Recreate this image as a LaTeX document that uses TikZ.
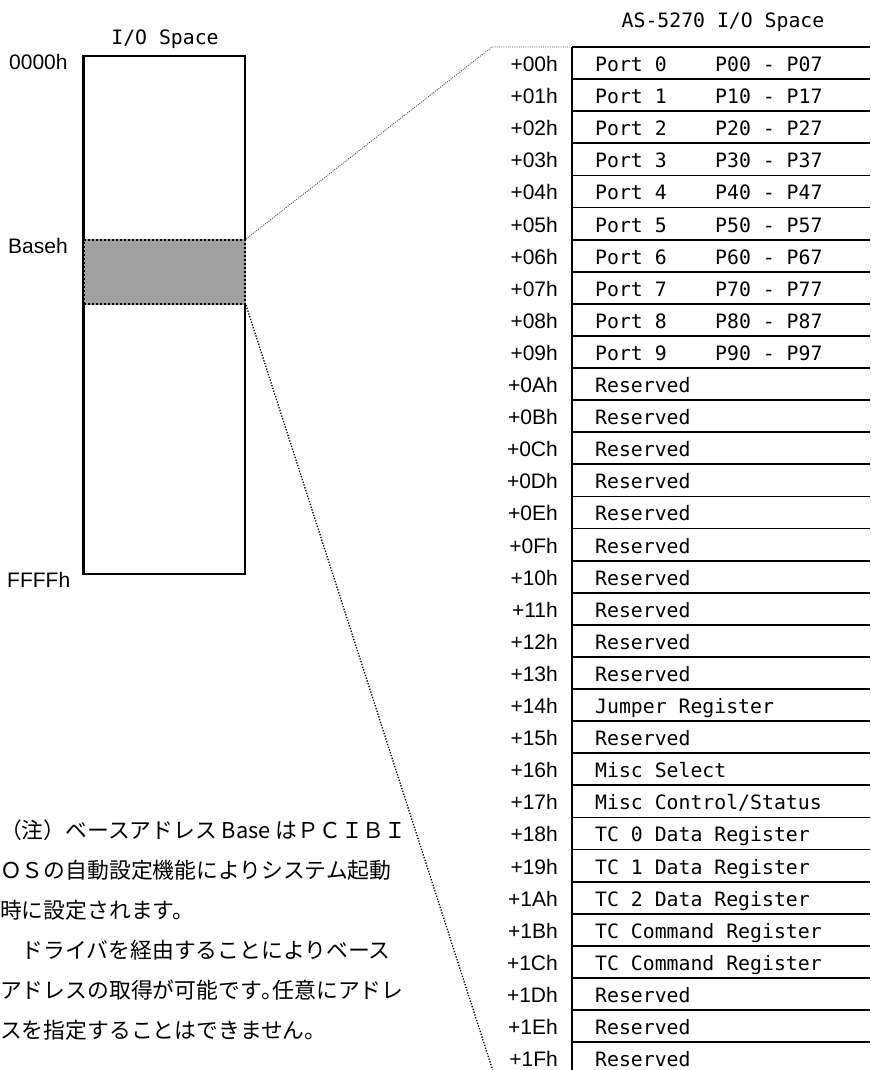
\documentclass[tikz,border=0pt]{standalone}
\usepackage{fontspec}
\setmainfont{Liberation Sans}
\setmonofont{DejaVu Sans Mono}
\newfontfamily\cjk{Noto Sans CJK JP}
\definecolor{blkgray}{gray}{0.63}

\begin{document}
\begin{tikzpicture}[x=1pt,y=-1pt,
  addr/.style={anchor=base east,inner sep=0pt,text depth=0pt,font=\fontsize{21}{25}\selectfont},
  tm/.style={anchor=base west,inner sep=0pt,text depth=0pt,font=\ttfamily\fontsize{19.8}{24}\selectfont},
  note/.style={anchor=base west,inner sep=0pt,font=\cjk\fontsize{21.8}{26}\selectfont},
  rule/.style={line width=1.8pt},
  blk/.style={fill=blkgray,draw=black,line width=2pt,dash pattern=on 2pt off 2pt,
    preaction={draw=blkgray,line width=2.6pt,solid}},
  zoomline/.style={black!70,line width=0.9pt,dash pattern=on 1pt off 1.2pt}]
\useasboundingbox (0,0) rectangle (870,1070);
\def\rowh{32.1}
% whole I/O space
\node[rule,draw,minimum width=161pt,minimum height=518pt,inner sep=0pt] (iospace) at (164.5,315) {};
\node[blk,minimum width=161pt,minimum height=64pt,inner sep=0pt] (blk) at (164.5,272) {};
\draw[rule] (iospace.north west) -- (iospace.south west);
\node[tm,anchor=base] (iotitle) at (165,45) {I/O Space};
\node[addr,anchor=base west] (lo) at (9,70) {0000h};
\node[addr,anchor=base west] (base) at (8,253.5) {Baseh};
\node[addr,anchor=base west] (hi) at (7,587.5) {FFFFh};
% board registers
\node[tm,anchor=base] (astitle) at (723,28) {AS-5270 I/O Space};
\coordinate (ttop) at (572,47);
\coordinate (tbot) at (572,{47+32*\rowh});
\draw[rule] (ttop) -- (tbot);
\draw[rule] (ttop) -- (870,47);
\foreach \k in {0,...,9}{
  \node[addr] (off\k) at (558,{47+\k*\rowh+24.5}) {+0\k h};
  \node[tm] (reg\k) at (595,{47+\k*\rowh+24.5}) {Port \k};
  \node[tm] (pin\k) at (715,{47+\k*\rowh+24.5}) {P\k0 - P\k7};
  \draw[rule] (572,{47+(\k+1)*\rowh}) -- (870,{47+(\k+1)*\rowh});
}
\foreach [count=\k from 10] \hexv/\regt in {0A/Reserved,0B/Reserved,0C/Reserved,0D/Reserved,
    0E/Reserved,0F/Reserved,10/Reserved,11/Reserved,12/Reserved,13/Reserved,
    14/Jumper Register,15/Reserved,16/Misc Select,17/{Misc Control/Status},
    18/TC 0 Data Register,19/TC 1 Data Register,1A/TC 2 Data Register,
    1B/TC Command Register,1C/TC Command Register,1D/Reserved,1E/Reserved,1F/Reserved}{
  \node[addr] (off\k) at (558,{47+\k*\rowh+24.5}) {+\hexv h};
  \node[tm] (reg\k) at (595,{47+\k*\rowh+24.5}) {\regt};
  \draw[rule] (572,{47+(\k+1)*\rowh}) -- (870,{47+(\k+1)*\rowh});
}
% zoom lines
\coordinate (kn1) at (492,47);
\coordinate (kn2) at (494,{47+32*\rowh});
\draw[zoomline] (blk.north east) -- (kn1) -- (ttop);
\draw[zoomline,black,line width=1.3pt,dash pattern=on 1.3pt off 1.6pt] (blk.south east) -- (kn2) -- (tbot);
% note
\node[note] (n1) at (0,838) {（注）ベースアドレス Base はＰＣＩＢＩ};
\node[note] (n2) at (0,878) {ＯＳの自動設定機能によりシステム起動};
\node[note] (n3) at (0,918) {時に設定されます。};
\node[note] (n4) at (0,958) {　ドライバを経由することによりベース};
\node[note] (n5) at (0,998) {アドレスの取得が可能です{\addfontfeature{RawFeature=+halt}。}任意にアドレ};
\node[note] (n6) at (0,1038) {スを指定することはできません。};
\end{tikzpicture}
\end{document}
